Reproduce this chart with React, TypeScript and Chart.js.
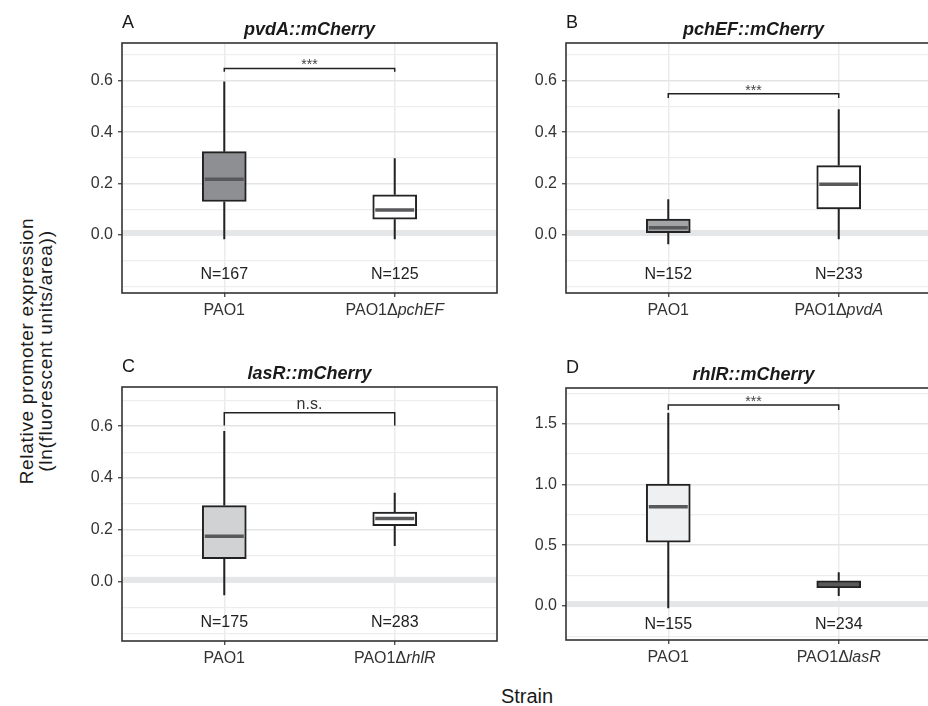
import React, { useEffect, useRef } from "react";
import { Chart, registerables } from "chart.js";

Chart.register(...registerables);

const FONT = '"Liberation Sans", Arial, Helvetica, sans-serif';

// ---------------- data ----------------
const panelLetters = ["A", "B", "C", "D"];
const panelTitles = ["pvdA::mCherry", "pchEF::mCherry", "lasR::mCherry", "rhlR::mCherry"];
const wildType = "PAO1";
const mutantGenes = ["pchEF", "pvdA", "rhlR", "lasR"];

// [wild type, mutant] per panel
const whiskerLow = [
  [-0.017, -0.017],
  [-0.036, -0.017],
  [-0.052, 0.138],
  [-0.019, 0.082],
];
const quartile1 = [
  [0.13, 0.061],
  [0.009, 0.101],
  [0.089, 0.217],
  [0.526, 0.151],
];
const medians = [
  [0.217, 0.097],
  [0.028, 0.197],
  [0.176, 0.244],
  [0.816, 0.178],
];
const quartile3 = [
  [0.324, 0.156],
  [0.062, 0.27],
  [0.294, 0.269],
  [1.003, 0.208],
];
const whiskerHigh = [
  [0.597, 0.298],
  [0.139, 0.489],
  [0.581, 0.343],
  [1.589, 0.277],
];
const nCounts = [
  [167, 125],
  [152, 233],
  [175, 283],
  [155, 234],
];
const sigLabels = ["***", "***", "n.s.", "***"];
const bracketY = [0.648, 0.549, 0.652, 1.652];
const bracketTipY = [0.635, 0.533, 0.603, 1.611];
const nLabelY = -0.156;

const yMin = [-0.226, -0.226, -0.228, -0.279];
const yMax = [0.747, 0.747, 0.751, 1.792];
const yMinorStep = [0.1, 0.1, 0.1, 0.25];
const yMajorStep = [0.2, 0.2, 0.2, 0.5];

// ---------------- styles / layout ----------------
const wildFill = ["#8e8f92", "#a3a4a6", "#d1d2d4", "#eff0f1"];
const mutantFill = ["#ffffff", "#ffffff", "#ffffff", "#58595b"];

const AREAS = [
  { l: 122, t: 43, w: 375, h: 250 },
  { l: 566, t: 43, w: 375, h: 250 },
  { l: 122, t: 387, w: 375, h: 254 },
  { l: 566, t: 388, w: 375, h: 252 },
];
const PAD_L = 58;
const PAD_T = 43;
const PAD_R = 3;
const PAD_B = 37;

function isMajor(v: number, idx: number) {
  const r = v / yMajorStep[idx];
  return Math.abs(r - Math.round(r)) < 1e-6 && v > -1e-9;
}

function makeExtras(idx: number) {
  return {
    id: "boxExtras",
    beforeDatasetsDraw(chart: any) {
      const { ctx, chartArea: a, scales } = chart;
      const x = scales.x;
      const y = scales.y;
      ctx.save();
      const y0 = y.getPixelForValue(0);
      ctx.fillStyle = "#e5e6e7";
      ctx.fillRect(a.left, y0 - 5, a.right - a.left, 6);
      ctx.strokeStyle = "#222";
      ctx.lineWidth = 2;
      for (let j = 0; j < 2; j++) {
        const px = x.getPixelForValue(j + 1);
        ctx.beginPath();
        ctx.moveTo(px, y.getPixelForValue(whiskerHigh[idx][j]));
        ctx.lineTo(px, y.getPixelForValue(quartile3[idx][j]));
        ctx.moveTo(px, y.getPixelForValue(quartile1[idx][j]));
        ctx.lineTo(px, y.getPixelForValue(whiskerLow[idx][j]));
        ctx.stroke();
      }
      ctx.restore();
    },
    afterDatasetsDraw(chart: any) {
      const { ctx, chartArea: a, scales } = chart;
      const x = scales.x;
      const y = scales.y;
      ctx.save();
      // medians
      ctx.strokeStyle = "#58595b";
      ctx.lineWidth = 3.5;
      for (let j = 0; j < 2; j++) {
        const px = x.getPixelForValue(j + 1);
        const py = y.getPixelForValue(medians[idx][j]);
        ctx.beginPath();
        ctx.moveTo(px - 19.5, py);
        ctx.lineTo(px + 19.5, py);
        ctx.stroke();
      }
      // N labels
      ctx.fillStyle = "#222";
      ctx.font = `16px ${FONT}`;
      ctx.textAlign = "center";
      ctx.textBaseline = "middle";
      for (let j = 0; j < 2; j++) {
        ctx.fillText(`N=${nCounts[idx][j]}`, x.getPixelForValue(j + 1), y.getPixelForValue(nLabelY));
      }
      // significance bracket
      const x1 = x.getPixelForValue(1);
      const x2 = x.getPixelForValue(2);
      const by = y.getPixelForValue(bracketY[idx]);
      const ty = y.getPixelForValue(bracketTipY[idx]);
      ctx.strokeStyle = "#222";
      ctx.lineWidth = 1.5;
      ctx.beginPath();
      ctx.moveTo(x1, ty);
      ctx.lineTo(x1, by);
      ctx.lineTo(x2, by);
      ctx.lineTo(x2, ty);
      ctx.stroke();
      const sig = sigLabels[idx];
      ctx.textBaseline = "alphabetic";
      if (sig === "n.s.") {
        ctx.fillStyle = "#333";
        ctx.font = `16px ${FONT}`;
        ctx.fillText(sig, (x1 + x2) / 2, by - 4);
      } else {
        ctx.fillStyle = "#444";
        ctx.font = `14px ${FONT}`;
        ctx.fillText(sig, (x1 + x2) / 2, by + 1);
      }
      // panel border
      ctx.strokeStyle = "#333";
      ctx.lineWidth = 1.6;
      ctx.strokeRect(a.left, a.top, a.right - a.left, a.bottom - a.top);
      ctx.restore();
    },
    afterDraw(chart: any) {
      const { ctx, chartArea: a, scales } = chart;
      const x = scales.x;
      ctx.save();
      ctx.fillStyle = "#1a1a1a";
      ctx.textBaseline = "alphabetic";
      // panel letter
      ctx.font = `18px ${FONT}`;
      ctx.textAlign = "left";
      ctx.fillText(panelLetters[idx], a.left, a.top - 15);
      // title
      ctx.font = `italic bold 18px ${FONT}`;
      ctx.textAlign = "center";
      ctx.fillText(panelTitles[idx], a.left + 375 / 2, a.top - 8);
      // x labels
      const base = a.bottom + 22;
      ctx.fillStyle = "#333";
      ctx.font = `16px ${FONT}`;
      ctx.textAlign = "center";
      ctx.fillText(wildType, x.getPixelForValue(1), base);
      const pre = `${wildType}\u0394`;
      const gene = mutantGenes[idx];
      ctx.font = `16px ${FONT}`;
      const w1 = ctx.measureText(pre).width;
      ctx.font = `italic 16px ${FONT}`;
      const w2 = ctx.measureText(gene).width;
      const start = x.getPixelForValue(2) - (w1 + w2) / 2;
      ctx.textAlign = "left";
      ctx.font = `16px ${FONT}`;
      ctx.fillText(pre, start, base);
      ctx.font = `italic 16px ${FONT}`;
      ctx.fillText(gene, start + w1, base);
      ctx.restore();
    },
  };
}

function Panel({ idx }: { idx: number }) {
  const ref = useRef<HTMLCanvasElement>(null);
  const area = AREAS[idx];
  const cw = area.w + PAD_L + PAD_R;
  const ch = area.h + PAD_T + PAD_B;
  useEffect(() => {
    const cv = ref.current;
    if (!cv) return;
    const boxes = [0, 1].map((j) => ({ x: j + 1, y: [quartile1[idx][j], quartile3[idx][j]] }));
    const chart = new Chart(cv, {
      type: "bar",
      data: {
        datasets: [
          {
            data: boxes as any,
            backgroundColor: [wildFill[idx], mutantFill[idx]],
            borderColor: "#222",
            borderWidth: 2,
            borderSkipped: false,
            barThickness: 44,
          },
        ],
      },
      options: {
        animation: false,
        responsive: false,
        devicePixelRatio: 1,
        layout: { padding: { left: 0, top: PAD_T, right: PAD_R, bottom: 0 } },
        plugins: {
          legend: { display: false },
          tooltip: { enabled: false },
          title: { display: false },
        },
        scales: {
          x: {
            type: "linear",
            min: 0.4,
            max: 2.6,
            offset: false,
            afterBuildTicks: (s: any) => {
              s.ticks = [{ value: 1 }, { value: 2 }];
            },
            afterFit: (s: any) => {
              s.height = PAD_B;
            },
            ticks: { display: false },
            grid: {
              offset: false,
              color: "#ebebeb",
              lineWidth: 1.5,
              tickColor: "#333",
              tickLength: 4,
              tickWidth: 1.2,
            },
            border: { display: false },
          },
          y: {
            type: "linear",
            min: yMin[idx],
            max: yMax[idx],
            afterFit: (s: any) => {
              s.width = PAD_L;
            },
            ticks: {
              stepSize: yMinorStep[idx],
              includeBounds: false,
              autoSkip: false,
              padding: 5,
              color: "#333",
              font: { size: 16, family: FONT },
              callback: (v: any) => (isMajor(Number(v), idx) ? Number(v).toFixed(1) : ""),
            },
            grid: {
              color: (c: any) => (c.tick && isMajor(c.tick.value, idx) ? "#e4e4e4" : "#ededed"),
              lineWidth: (c: any) => (c.tick && isMajor(c.tick.value, idx) ? 1.5 : 1.2),
              tickColor: (c: any) => (c.tick && isMajor(c.tick.value, idx) ? "#333" : "rgba(0,0,0,0)"),
              tickLength: 4,
              tickWidth: 1.2,
            },
            border: { display: false },
          },
        },
      } as any,
      plugins: [makeExtras(idx) as any],
    });
    return () => chart.destroy();
  }, [idx]);
  return (
    <canvas
      ref={ref}
      width={cw}
      height={ch}
      style={{
        position: "absolute",
        left: area.l - PAD_L,
        top: area.t - PAD_T,
        width: cw,
        height: ch,
      }}
    />
  );
}

export default function App() {
  return (
    <div
      style={{
        position: "fixed",
        left: 0,
        top: 0,
        width: 928,
        height: 706,
        overflow: "hidden",
        background: "#ffffff",
        fontFamily: FONT,
      }}
    >
      {[0, 1, 2, 3].map((i) => (
        <Panel key={i} idx={i} />
      ))}
      <div style={{ position: "absolute", left: 36, top: 351, width: 0, height: 0 }}>
        <div
          style={{
            position: "absolute",
            left: 0,
            top: 0,
            transform: "translate(-50%, -50%) rotate(-90deg)",
            whiteSpace: "nowrap",
            textAlign: "center",
            fontSize: 19,
            letterSpacing: "0.7px",
            lineHeight: "19px",
            color: "#1a1a1a",
          }}
        >
          Relative promoter expression
          <br />
          (ln(fluorescent units/area))
        </div>
      </div>
      <div
        style={{
          position: "absolute",
          left: 427,
          top: 686,
          width: 200,
          textAlign: "center",
          fontSize: 20,
          lineHeight: "20px",
          color: "#1a1a1a",
        }}
      >
        Strain
      </div>
    </div>
  );
}
